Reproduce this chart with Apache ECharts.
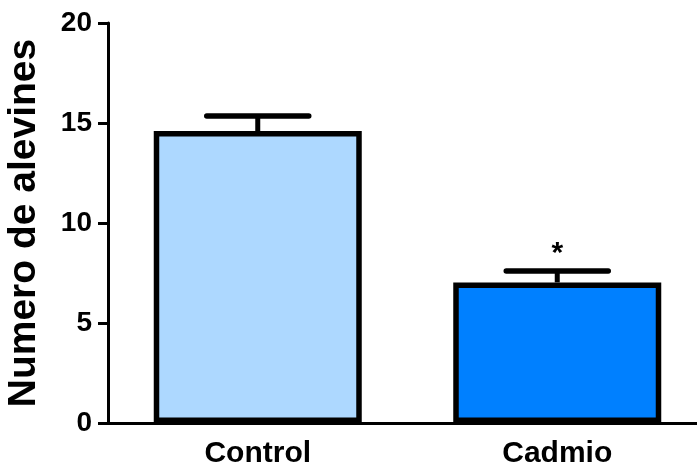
<!DOCTYPE html>
<html>
<head>
<meta charset="utf-8">
<script src="https://cdn.jsdelivr.net/npm/echarts@6/dist/echarts.min.js"></script>
<style>html,body{margin:0;padding:0;background:#fff}#c{width:697px;height:467px}</style>
</head>
<body>
<div id="c"></div>
<script>
var categories = ['Control', 'Cadmio'];
var means = [14.6, 7.03];
var errors = [0.75, 0.57];
var signif = ['', '*'];
var barColors = ['#ADD8FF', '#0080FF'];
var yTicks = [0, 5, 10, 15, 20];

var FONT = '"Liberation Sans", Arial, sans-serif';
var chart = echarts.init(document.getElementById('c'), null, {renderer: 'canvas'});

var errData = categories.map(function (c, i) { return [i, means[i], errors[i], signif[i]]; });

chart.setOption({
  animation: false,
  backgroundColor: '#fff',
  grid: {left: 108, right: -10, top: 23, bottom: 44, containLabel: false, outerBoundsMode: 'none'},
  xAxis: {
    type: 'category',
    data: categories,
    axisLine: {lineStyle: {color: '#000', width: 3}},
    axisTick: {alignWithLabel: true, length: 9, lineStyle: {color: '#000', width: 3}},
    axisLabel: {color: '#000', fontFamily: FONT, fontWeight: 'bold', fontSize: 30, margin: 16}
  },
  yAxis: {
    type: 'value',
    min: yTicks[0], max: yTicks[yTicks.length - 1], interval: 5,
    name: 'Numero de alevines',
    nameLocation: 'middle',
    nameRotate: 90,
    nameGap: 64,
    nameTextStyle: {color: '#000', fontFamily: FONT, fontWeight: 'bold', fontSize: 39},
    axisLine: {show: true, lineStyle: {color: '#000', width: 3}},
    axisTick: {show: true, length: 10, lineStyle: {color: '#000', width: 3}},
    splitLine: {show: false},
    axisLabel: {color: '#000', fontFamily: FONT, fontWeight: 'bold', fontSize: 28, margin: 16}
  },
  series: [
    {
      type: 'bar',
      data: means.map(function (v, i) {
        return {value: v, itemStyle: {color: barColors[i]}};
      }),
      barWidth: 208,
      itemStyle: {borderColor: '#000', borderWidth: 5.5},
      z: 3
    },
    {
      type: 'custom',
      data: errData,
      z: 2,
      renderItem: function (params, api) {
        var x = api.value(0), m = api.value(1), e = api.value(2);
        var p0 = api.coord([x, m]);
        var p1 = api.coord([x, m + e]);
        var half = 51;
        var children = [
          {type: 'line', shape: {x1: p0[0], y1: p0[1], x2: p1[0], y2: p1[1]},
           style: {stroke: '#000', lineWidth: 5}},
          {type: 'line', shape: {x1: p1[0] - half, y1: p1[1], x2: p1[0] + half, y2: p1[1]},
           style: {stroke: '#000', lineWidth: 5.5, lineCap: 'round'}}
        ];
        var s = signif[params.dataIndex];
        if (s) {
          children.push({type: 'text', x: p1[0], y: p1[1] - 2,
            style: {text: s, fill: '#000', font: 'bold 30px ' + FONT, align: 'center', verticalAlign: 'bottom'}});
        }
        return {type: 'group', children: children};
      }
    }
  ]
});
</script>
</body>
</html>
